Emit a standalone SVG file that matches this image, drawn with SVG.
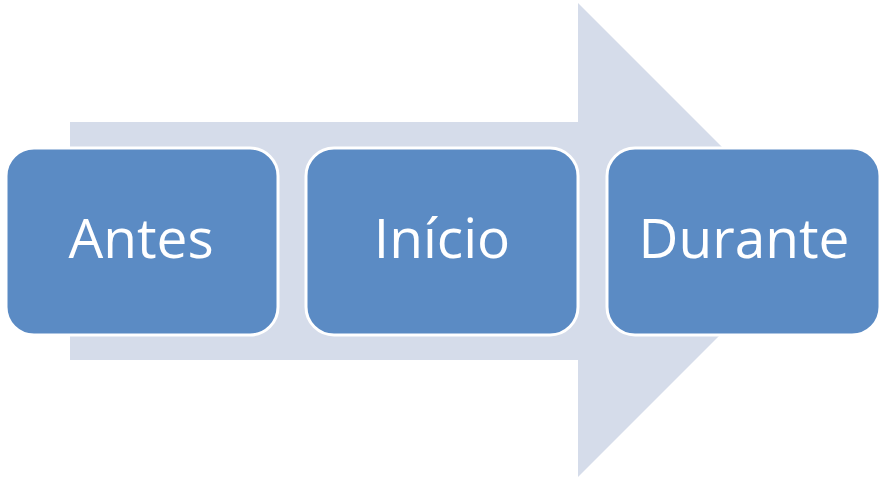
<svg xmlns="http://www.w3.org/2000/svg" width="882" height="478" viewBox="0 0 882 478">
<style>
.box{fill:#5b8bc4;stroke:#ffffff;stroke-width:3}
.lbl{fill:#ffffff;font-family:"Open Sans","Liberation Sans",sans-serif;font-size:55px;text-anchor:middle}
</style>
<rect width="882" height="478" fill="#ffffff"/>
<g id="connectors">
<polygon points="70,122 578,122 578,3 815,240 578,477 578,360 70,360" fill="#d5dcea"/>
</g>
<g id="antes">
<rect class="box" x="6" y="148" width="272" height="187" rx="28"/>
<text class="lbl" x="141" y="258">Antes</text>
</g>
<g id="inicio">
<rect class="box" x="306" y="148" width="272" height="187" rx="28"/>
<text class="lbl" x="442" y="258">Início</text>
</g>
<g id="durante">
<rect class="box" x="607" y="148" width="273" height="187" rx="28"/>
<text class="lbl" x="744" y="258">Durante</text>
</g>
</svg>
